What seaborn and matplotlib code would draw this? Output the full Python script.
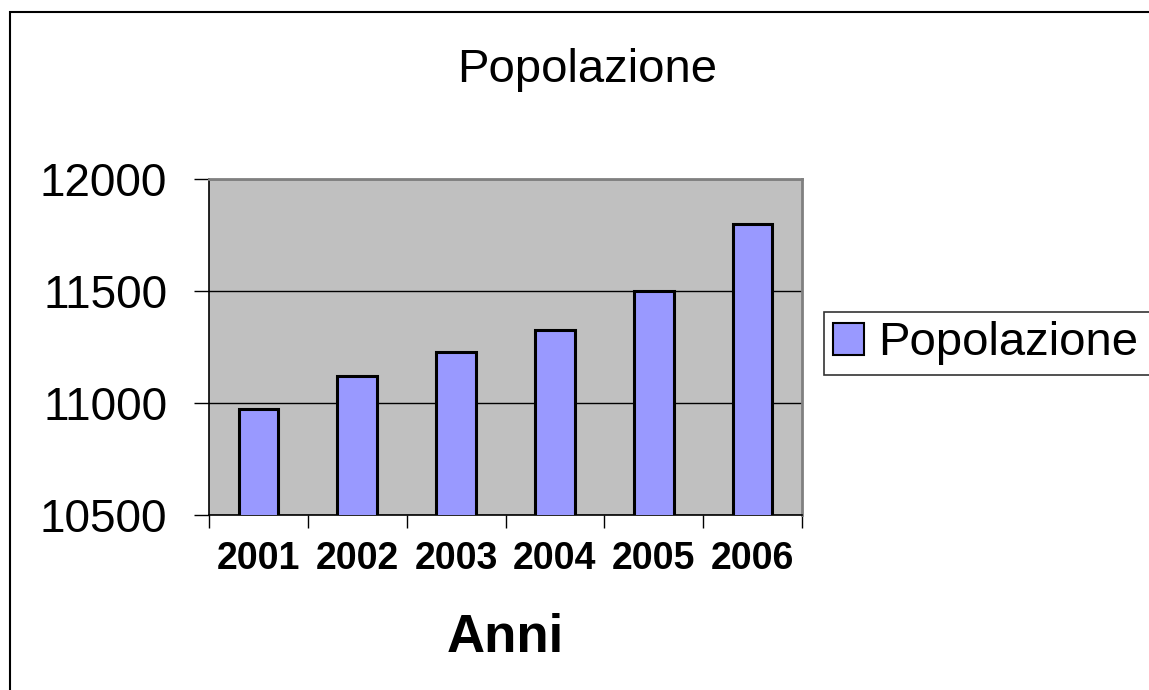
import matplotlib
matplotlib.use("Agg")
import matplotlib.pyplot as plt
import matplotlib.patches as mpatches
import seaborn as sns
import pandas as pd

# Data
anni = ["2001", "2002", "2003", "2004", "2005", "2006"]
popolazione = [10973, 11120, 11228, 11326, 11500, 11800]

df = pd.DataFrame({"Anni": anni, "Popolazione": popolazione})

sns.set_style("white")
plt.rcParams['font.family'] = ['Liberation Sans', 'DejaVu Sans']
plt.rcParams['text.color'] = 'black'
plt.rcParams['xtick.color'] = 'black'
plt.rcParams['ytick.color'] = 'black'
plt.rcParams['axes.labelcolor'] = 'black'

W, H = 1149, 690
fig = plt.figure(figsize=(W / 100, H / 100), dpi=100)
ax = fig.add_axes([209 / W, (H - 515) / H, (802 - 209) / W, (515 - 179) / H])

bar_color = "#9999FF"
sns.barplot(data=df, x="Anni", y="Popolazione", color=bar_color, width=0.4,
            edgecolor="black", linewidth=2.2, saturation=1, ax=ax, zorder=3)

ax.set_facecolor("#C0C0C0")
ax.set_xlim(-0.5, 5.5)
ax.set_ylim(10500, 12000)
ax.set_yticks([10500, 11000, 11500, 12000])
ax.yaxis.grid(True, color="black", linewidth=1)
ax.set_axisbelow(True)

# x ticks at category boundaries, labels centred under bars
ax.set_xticks([i - 0.5 for i in range(len(anni) + 1)])
ax.set_xticklabels([])
ax.set_xticks(range(len(anni)), minor=True)
ax.set_xticklabels(anni, minor=True, fontsize=27, fontweight="bold")
ax.tick_params(axis="x", which="major", direction="out", length=9, width=1, bottom=True)
ax.tick_params(axis="x", which="minor", length=0, pad=19)
ax.tick_params(axis="y", direction="out", length=11, width=1, left=True, labelsize=33, pad=19)

for side in ["left", "bottom"]:
    ax.spines[side].set_color("black")
    ax.spines[side].set_linewidth(1.2)
for side in ["top", "right"]:
    ax.spines[side].set_color("#808080")
    ax.spines[side].set_linewidth(2)

ax.set_ylabel("")
ax.set_xlabel("Anni", fontsize=38, fontweight="bold", labelpad=26)

fig.text(587 / W, 1 - 70 / H, "Popolazione", fontsize=34, ha="center", va="center")

# legend box runs off the right edge, as in the original
handle = mpatches.Patch(facecolor=bar_color, edgecolor="black", linewidth=1.5, label="Popolazione")
leg = fig.legend(handles=[handle], loc="upper left", mode="expand",
                 bbox_to_anchor=(824 / W, 1 - 312 / H, 0.3, 0),
                 fontsize=34, frameon=True, fancybox=False, edgecolor="black",
                 handlelength=0.65, handleheight=0.65, handletextpad=0.3,
                 borderpad=0.2, borderaxespad=0)
leg.get_frame().set_linewidth(1.2)

# outer chart border
fig.patches.append(mpatches.Rectangle((10 / W, -0.05), 1.2, 1 - 12 / H + 0.05,
                                      transform=fig.transFigure, fill=False,
                                      edgecolor="black", linewidth=1.5))

fig.savefig("out.png", dpi=100)
